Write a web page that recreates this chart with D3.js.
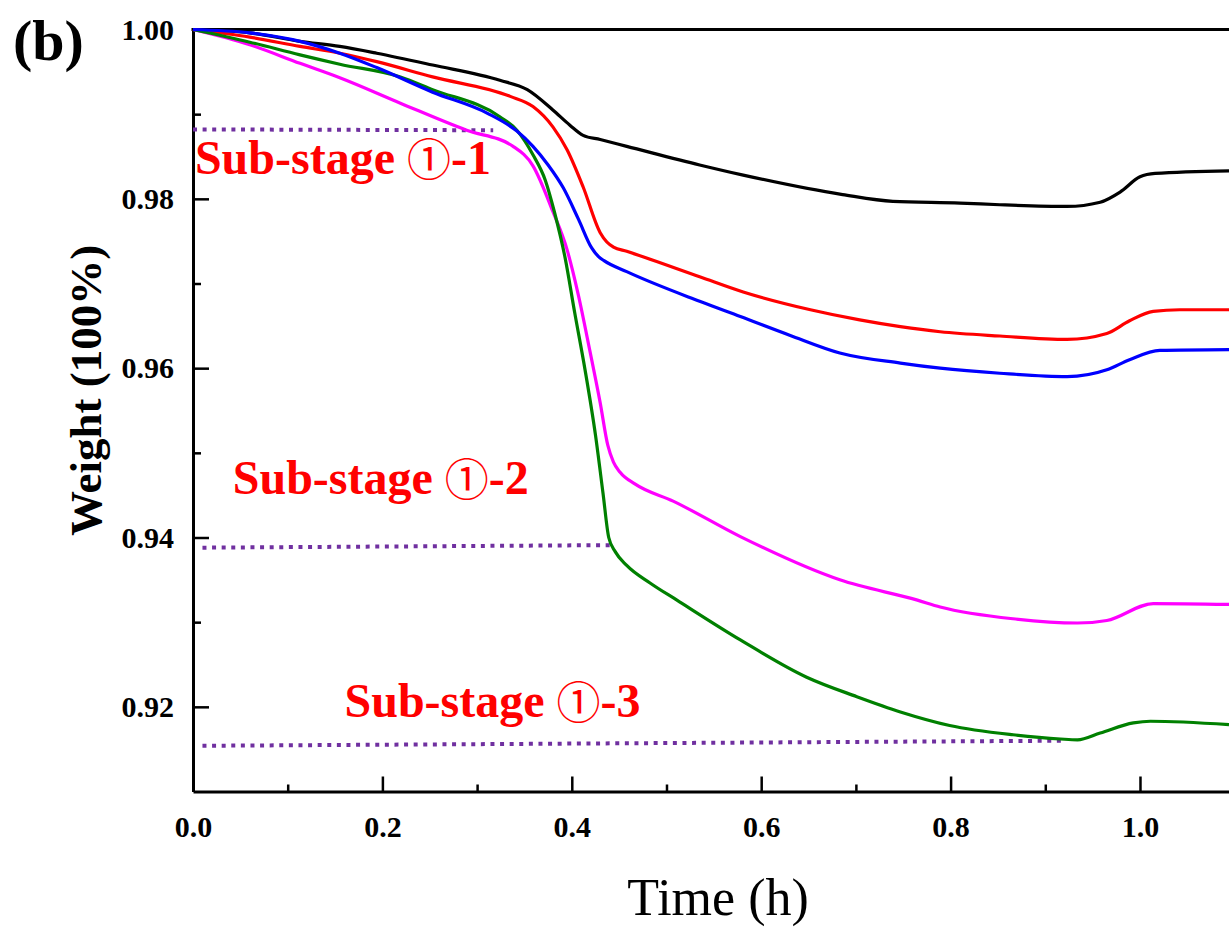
<!DOCTYPE html>
<meta charset="utf-8">
<script src="https://d3js.org/d3.v7.min.js"></script>
<style>body{margin:0;background:#fff}</style>
<div id="my_dataviz"></div>
<script>

// time (h) and weight (fraction) for each curve
var blackT = [0, 0.060, 0.113, 0.155, 0.194, 0.253, 0.324, 0.353, 0.380, 0.398, 0.412, 0.430, 0.458, 0.535, 0.581, 0.686, 0.739, 0.810, 0.852, 0.923, 0.958, 0.979, 1.000, 1.016, 1.094];
var blackW = [1.0000, 0.9996, 0.9986, 0.9980, 0.9972, 0.9958, 0.9940, 0.9929, 0.9905, 0.9887, 0.9875, 0.9870, 0.9862, 0.9840, 0.9828, 0.9805, 0.9797, 0.9795, 0.9793, 0.9791, 0.9796, 0.9808, 0.9826, 0.9830, 0.9833];

var redT = [0, 0.060, 0.113, 0.155, 0.194, 0.253, 0.335, 0.359, 0.380, 0.395, 0.412, 0.430, 0.437, 0.444, 0.458, 0.535, 0.581, 0.652, 0.704, 0.747, 0.789, 0.852, 0.923, 0.965, 0.989, 1.014, 1.042, 1.094];
var redW = [1.0000, 0.9991, 0.9980, 0.9972, 0.9962, 0.9944, 0.9921, 0.9909, 0.9885, 0.9858, 0.9814, 0.9760, 0.9749, 0.9743, 0.9738, 0.9708, 0.9690, 0.9669, 0.9657, 0.9649, 0.9643, 0.9638, 0.9634, 0.9641, 0.9656, 0.9667, 0.9669, 0.9669];

var blueT = [0, 0.060, 0.113, 0.155, 0.194, 0.253, 0.311, 0.342, 0.359, 0.375, 0.391, 0.407, 0.421, 0.428, 0.434, 0.458, 0.535, 0.578, 0.630, 0.683, 0.747, 0.789, 0.852, 0.923, 0.965, 0.989, 1.021, 1.094];
var blueW = [1.0000, 0.9996, 0.9986, 0.9972, 0.9955, 0.9926, 0.9901, 0.9880, 0.9862, 0.9840, 0.9813, 0.9776, 0.9742, 0.9732, 0.9727, 0.9714, 0.9679, 0.9661, 0.9639, 0.9618, 0.9606, 0.9600, 0.9594, 0.9590, 0.9598, 0.9610, 0.9621, 0.9622];

var magentaT = [0, 0.060, 0.113, 0.155, 0.219, 0.289, 0.338, 0.359, 0.380, 0.395, 0.407, 0.419, 0.430, 0.438, 0.444, 0.451, 0.467, 0.507, 0.578, 0.683, 0.765, 0.789, 0.866, 0.934, 0.965, 1.014, 1.094];
var magentaW = [1.0000, 0.9982, 0.9960, 0.9943, 0.9913, 0.9881, 0.9862, 0.9839, 0.9785, 0.9740, 0.9686, 0.9621, 0.9559, 0.9509, 0.9489, 0.9477, 0.9463, 0.9443, 0.9401, 0.9350, 0.9326, 0.9318, 0.9304, 0.9299, 0.9302, 0.9322, 0.9321];

var greenT = [0, 0.060, 0.113, 0.155, 0.219, 0.253, 0.324, 0.342, 0.359, 0.372, 0.382, 0.393, 0.403, 0.414, 0.425, 0.433, 0.439, 0.446, 0.458, 0.483, 0.511, 0.578, 0.648, 0.701, 0.747, 0.799, 0.866, 0.916, 0.934, 0.958, 0.993, 1.011, 1.094];
var greenW = [1.0000, 0.9985, 0.9970, 0.9959, 0.9944, 0.9929, 0.9897, 0.9881, 0.9852, 0.9822, 0.9783, 0.9730, 0.9666, 0.9598, 0.9521, 0.9452, 0.9400, 0.9383, 0.9367, 0.9346, 0.9326, 0.9279, 0.9235, 0.9212, 0.9194, 0.9178, 0.9167, 0.9162, 0.9161, 0.9169, 0.9181, 0.9183, 0.9179];

var seriesColors = ["#000000", "#ff0000", "#ff00ff", "#008000", "#0000ff"];

// dotted guide lines: [t0, w0, t1, w1]
var guideLines = [
  [0.000, 0.9882, 0.317, 0.9881],
  [0.010, 0.9388, 0.4425, 0.9391],
  [0.010, 0.9154, 0.9176, 0.9160]
];
var stageLabels = ["-1", "-2", "-3"];
var stageT = [0.002, 0.042, 0.160];
var stageW = [0.9829, 0.9451, 0.9188];

var xMajor = [0, 0.2, 0.4, 0.6, 0.8, 1.0];
var xMinor = [0.1, 0.3, 0.5, 0.7, 0.9];
var yMajor = [0.92, 0.94, 0.96, 0.98, 1.00];
var yMinor = [0.93, 0.95, 0.97, 0.99];

var margin = {top: 29.5, right: 0, bottom: 135.5, left: 193},
    width = 1229 - margin.left - margin.right,
    height = 927 - margin.top - margin.bottom;

var svg = d3.select("#my_dataviz")
  .append("svg")
    .attr("width", 1229)
    .attr("height", 927)
  .append("g")
    .attr("transform", "translate(" + margin.left + "," + margin.top + ")");

var x = d3.scaleLinear().domain([0, 1.094]).range([0, width]);
var y = d3.scaleLinear().domain([0.91, 1.00]).range([height, 0]);

var serif = "'Liberation Serif', 'Times New Roman', serif";

// minor ticks first, then major axes with labels
svg.append("g")
  .attr("transform", "translate(0," + height + ")")
  .call(d3.axisBottom(x).tickValues(xMinor).tickSize(-7).tickSizeOuter(0).tickFormat(""))
  .call(g => g.select(".domain").remove());
svg.append("g")
  .call(d3.axisLeft(y).tickValues(yMinor).tickSize(-8).tickSizeOuter(0).tickFormat(""))
  .call(g => g.select(".domain").remove());

var xAxis = svg.append("g")
  .attr("transform", "translate(0," + height + ")")
  .call(d3.axisBottom(x).tickValues(xMajor).tickSize(-15).tickSizeOuter(0).tickPadding(24).tickFormat(d3.format(".1f")));
var yAxis = svg.append("g")
  .call(d3.axisLeft(y).tickValues(yMajor).tickSize(-16).tickSizeOuter(0).tickPadding(19).tickFormat(d3.format(".2f")));

svg.selectAll(".tick line").attr("stroke", "#000").attr("stroke-width", 2.5);
svg.selectAll(".domain").attr("stroke", "#000").attr("stroke-width", 3);
[xAxis, yAxis].forEach(function(a) {
  a.selectAll("text")
    .attr("font-family", serif)
    .attr("font-weight", "bold")
    .attr("font-size", 30)
    .attr("fill", "#000");
});

// top frame line
svg.append("line")
  .attr("x1", -1.5).attr("x2", width)
  .attr("y1", y(1.0)).attr("y2", y(1.0))
  .attr("stroke", "#000").attr("stroke-width", 3);

// dotted guides
svg.selectAll(".guide")
  .data(guideLines)
  .enter().append("line")
    .attr("x1", d => x(d[0])).attr("y1", d => y(d[1]))
    .attr("x2", d => x(d[2])).attr("y2", d => y(d[3]))
    .attr("stroke", "#7030a0")
    .attr("stroke-width", 4)
    .attr("stroke-dasharray", "4,5.6");

// curves
var series = [
  [blackT, blackW], [redT, redW], [magentaT, magentaW], [greenT, greenW], [blueT, blueW]
];
var line = d3.line()
  .x(d => x(d[0]))
  .y(d => y(d[1]))
  .curve(d3.curveMonotoneX);

svg.selectAll(".curve")
  .data(series)
  .enter().append("path")
    .attr("fill", "none")
    .attr("stroke", (d, i) => seriesColors[i])
    .attr("stroke-width", 3.2)
    .attr("stroke-linejoin", "round")
    .attr("d", d => line(d3.zip(d[0], d[1])));

// stage labels: "Sub-stage ①-n"
var labels = svg.selectAll(".stage")
  .data(stageLabels)
  .enter().append("text")
    .attr("x", (d, i) => x(stageT[i]))
    .attr("y", (d, i) => y(stageW[i]))
    .attr("font-family", serif)
    .attr("font-weight", "bold")
    .attr("font-size", 48)
    .attr("fill", "#ff0000");
labels.append("tspan").text("Sub-stage ");
labels.append("tspan")
  .attr("font-family", "'Noto Sans CJK SC'")
  .attr("font-weight", 400)
  .attr("font-size", 44)
  .attr("dy", 2)
  .text("\u2460");
labels.append("tspan").attr("dy", -2).text(d => d);

// axis titles
svg.append("text")
  .attr("transform", "rotate(-90)")
  .attr("x", -height / 2 + 20)
  .attr("y", -92)
  .attr("text-anchor", "middle")
  .attr("font-family", serif)
  .attr("font-weight", "bold")
  .attr("font-size", 45)
  .text("Weight (100%)");

svg.append("text")
  .attr("x", 718 - margin.left)
  .attr("y", 915 - margin.top)
  .attr("text-anchor", "middle")
  .attr("font-family", serif)
  .attr("font-size", 52)
  .text("Time (h)");

svg.append("text")
  .attr("x", 13 - margin.left)
  .attr("y", 60 - margin.top)
  .attr("font-family", serif)
  .attr("font-weight", "bold")
  .attr("font-size", 58)
  .text("(b)");

</script>
